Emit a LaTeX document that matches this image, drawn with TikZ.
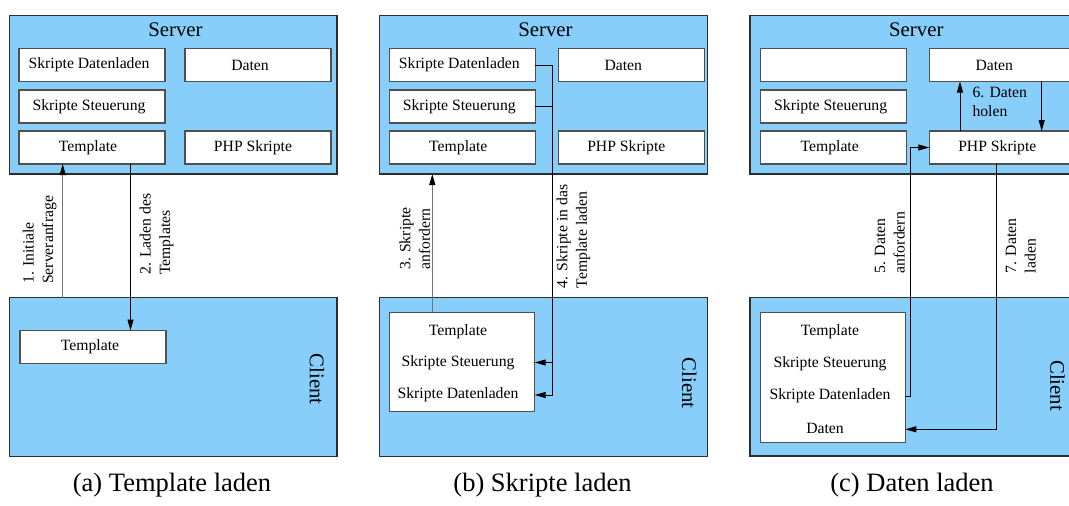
\documentclass[tikz,border=0pt]{standalone}
\usepackage{fontspec}
\setmainfont{Liberation Serif}
\usetikzlibrary{arrows.meta,calc}

\definecolor{skyfill}{RGB}{135,206,250}
\definecolor{framecol}{RGB}{45,45,45}
\definecolor{itemline}{RGB}{80,80,80}

\newcommand\itemfont{\fontsize{15.7}{19.5}\selectfont}
\newcommand\zonefont{\fontsize{20.8}{24}\selectfont}
\newcommand\subcapfont{\fontsize{26.5}{31}\selectfont}

\begin{document}
\begin{tikzpicture}[x=1pt,y=-1pt,
  zone/.style={draw=framecol, line width=1.2pt, fill=skyfill, anchor=north west,
               inner sep=0pt, outer sep=0pt},
  item/.style={draw=itemline, line width=1.1pt, fill=white, anchor=north west,
               minimum width=146pt, minimum height=33pt, inner sep=0pt, outer sep=0pt,
               font=\itemfont},
  nudge/.style={execute at begin node={\hspace*{-#1}}},
  plain/.style={inner sep=0pt, font=\itemfont},
  zonetitle/.style={inner sep=0pt, font=\zonefont},
  clienttitle/.style={inner sep=0pt, font=\zonefont, rotate=-90},
  steplabel/.style={inner sep=0pt, font=\itemfont, align=left, rotate=90, anchor=west},
  flow/.style={line width=0.9pt, -{Triangle[length=11pt,width=6pt]}},
  wire/.style={line width=0.9pt},
  request/.style={flow, draw=black!55, -{Triangle[length=11pt,width=6pt,fill=black,color=black]}},
  subcap/.style={inner sep=0pt, font=\subcapfont}
]
\useasboundingbox (0,0) rectangle (1069,506);
\clip (0,0) rectangle (1069,506);

% ---------------- (a) Template laden ----------------
\node[zone, minimum width=327.5pt, minimum height=158.5pt] (a-srv) at (9.5,15.5) {};
\node[zonetitle] (a-srvt) at (175.5,29.7) {Server};
\node[item, nudge=6pt]  (a-sd)  at (19,48.5) {Skripte Datenladen};
\node[item, nudge=16pt] (a-dat) at (185,48.5) {Daten};
\node[item, nudge=6pt]  (a-ss)  at (19,90)   {Skripte Steuerung};
\node[item, nudge=8pt]  (a-tpl) at (19,131)  {Template};
\node[item, nudge=10pt] (a-php) at (185,131) {PHP Skripte};

\node[zone, minimum width=327.5pt, minimum height=159pt] (a-cl) at (9.5,297.5) {};
\node[item, nudge=6pt] (a-ctpl) at (20,330.5) {Template};
\node[clienttitle] (a-clt) at (317,379) {Client};

\coordinate (a-x1) at (62.7,0);
\coordinate (a-x2) at (130.5,0);
\draw[request] (a-x1 |- a-cl.north) -- (a-x1 |- a-tpl.south);
\draw[flow] (a-x2 |- a-tpl.south) -- (a-x2 |- a-ctpl.north);
\node[steplabel] (a-l1) at (39.5,284) {1. Initiale\\Serveranfrage};
\node[steplabel] (a-l2) at (156.7,275) {2. Laden des\\Templates};

\node[subcap] (a-cap) at (172,485.5) {(a) Template laden};

% ---------------- (b) Skripte laden ----------------
\begin{scope}[shift={(370,0)}]
\node[zone, minimum width=328pt, minimum height=158.5pt] (b-srv) at (9.3,15.5) {};
\node[zonetitle] (b-srvt) at (175.5,29.5) {Server};
\node[item, nudge=6pt]  (b-sd)  at (19.3,48.5) {Skripte Datenladen};
\node[item, nudge=16pt] (b-dat) at (188.3,48.5) {Daten};
\node[item, nudge=6pt]  (b-ss)  at (19.3,90)   {Skripte Steuerung};
\node[item, nudge=8pt]  (b-tpl) at (19.3,131)  {Template};
\node[item, nudge=10pt] (b-php) at (188.3,131) {PHP Skripte};

\node[zone, minimum width=328pt, minimum height=159pt] (b-cl) at (9.3,297.5) {};
\node[item, minimum width=145.4pt, minimum height=99.4pt] (b-cbox) at (19.3,312.3) {};
\node[plain] (b-ctpl) at (88,331.7) {Template};
\node[plain] (b-css)  at (88,362.5) {Skripte Steuerung};
\node[plain] (b-csd)  at (88,394.5) {Skripte Datenladen};
\node[clienttitle] (b-clt) at (319.2,383.3) {Client};

\coordinate (b-x3) at (62.3,0);
\coordinate (b-bus) at (182.7,395);
\draw[request] (b-x3 |- b-cbox.north) -- (b-x3 |- b-srv.south);
\draw[wire] (b-sd.east) -| (b-bus);
\draw[wire] (b-ss.east) -- (b-ss.east -| b-bus);
\draw[flow] (b-bus) -- (b-bus -| b-cbox.east);
\draw[flow] (b-css -| b-bus) -- (b-css -| b-cbox.east);
\end{scope}
\node[steplabel] (b-l3) at (414.8,270) {3. Skripte\\anfordern};
\node[steplabel] (b-l4) at (573.3,288.3) {4. Skripte in das\\Template laden};

\node[subcap] (b-cap) at (542.5,485.5) {(b) Skripte laden};

% ---------------- (c) Daten laden ----------------
\begin{scope}[shift={(740,0)}]
\node[zone, minimum width=330pt, minimum height=158.5pt] (c-srv) at (10,15.5) {};
\node[zonetitle] (c-srvt) at (176.3,29.5) {Server};
\node[item] (c-sd)  at (20.7,48.5) {};
\node[item, nudge=16pt] (c-dat) at (189.3,48.5) {Daten};
\node[item, nudge=6pt]  (c-ss)  at (20.7,90)   {Skripte Steuerung};
\node[item, nudge=8pt]  (c-tpl) at (20.7,131)  {Template};
\node[item, nudge=10pt] (c-php) at (189.3,131) {PHP Skripte};

\node[zone, minimum width=330pt, minimum height=158.5pt] (c-cl) at (10,297.5) {};
\node[item, minimum width=144.6pt, minimum height=130pt] (c-cbox) at (20.7,312.3) {};
\node[plain] (c-ctpl) at (90,331.7) {Template};
\node[plain] (c-css)  at (90,364)   {Skripte Steuerung};
\node[plain] (c-csd)  at (90,396)   {Skripte Datenladen};
\node[plain] (c-cdat) at (85,428)   {Daten};
\node[clienttitle] (c-clt) at (317.5,385.7) {Client};

\coordinate (c-x6u) at (220,0);
\coordinate (c-x6d) at (301.7,0);
\coordinate (c-x5) at (170.7,0);
\coordinate (c-x7) at (256.7,0);
\draw[flow] (c-x6u |- c-php.north) -- (c-x6u |- c-dat.south);
\draw[flow] (c-x6d |- c-dat.south) -- (c-x6d |- c-php.north);
\node[plain, align=left, anchor=west] (c-l6) at (232.3,102) {6. Daten\\holen};
\draw[flow] (c-csd -| c-cbox.east) -| (c-x5 |- c-php.west) -- (c-php.west);
\draw[flow] (c-x7 |- c-php.south) |- ($(c-cdat -| c-cbox.east)+(0,1.3)$);
\end{scope}
\node[steplabel] (c-l5) at (889.7,273.3) {5. Daten\\anfordern};
\node[steplabel] (c-l7) at (1020.7,273.3) {7. Daten\\laden};

\node[subcap] (c-cap) at (912,485.5) {(c) Daten laden};
\end{tikzpicture}
\end{document}
